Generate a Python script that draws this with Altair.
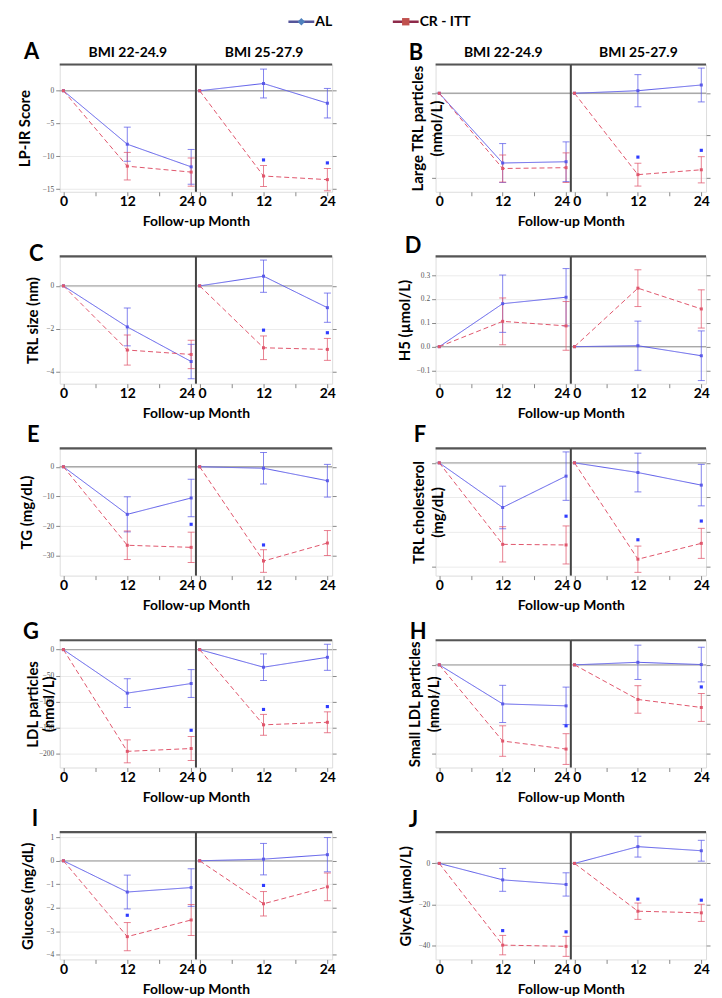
import altair as alt
import pandas as pd

MONTHS = [0, 12, 24]
GROUPS = ["BMI 22-24.9", "BMI 25-27.9"]
SERIES = ["AL", "CR - ITT"]

# Each list: BMI 22-24.9 at months 0, 12, 24, then BMI 25-27.9 at months 0, 12, 24
# A  LP-IR score
LPIR_AL = [0, -8.15, -11.6, 0, 1.1, -1.9]
LPIR_AL_ERR = [0, 2.6, 2.65, 0, 2.2, 2.25]
LPIR_CR = [0, -11.5, -12.4, 0, -13.0, -13.55]
LPIR_CR_ERR = [0, 2.1, 2.15, 0, 1.6, 1.7]
LPIR_STARS = [(1, 12, -10.55), (1, 24, -11.0)]

# B  Large TRL particles
LTRL_AL = [0, -1.65, -1.62, 0, 0.06, 0.195]
LTRL_AL_ERR = [0, 0.46, 0.47, 0, 0.38, 0.40]
LTRL_CR = [0, -1.78, -1.76, 0, -1.925, -1.81]
LTRL_CR_ERR = [0, 0.32, 0.35, 0, 0.27, 0.31]
LTRL_STARS = [(1, 12, -1.51), (1, 24, -1.35)]

# C  TRL size
TRLS_AL = [0, -1.91, -3.52, 0, 0.45, -1.015]
TRLS_AL_ERR = [0, 0.88, 0.8, 0, 0.75, 0.68]
TRLS_CR = [0, -2.985, -3.19, 0, -2.88, -2.955]
TRLS_CR_ERR = [0, 0.7, 0.66, 0, 0.55, 0.51]
TRLS_STARS = [(1, 12, -2.06), (1, 24, -2.18)]

# D  H5
H5_AL = [0, 0.18, 0.207, 0, 0.004, -0.038]
H5_AL_ERR = [0, 0.12, 0.12, 0, 0.103, 0.104]
H5_CR = [0, 0.106, 0.087, 0, 0.245, 0.158]
H5_CR_ERR = [0, 0.098, 0.102, 0, 0.077, 0.08]
H5_STARS = []

# E  TG
TG_AL = [0, -16.0, -10.5, 0, -0.5, -4.7]
TG_AL_ERR = [0, 5.9, 6.3, 0, 5.3, 5.5]
TG_CR = [0, -26.4, -27.1, 0, -31.7, -25.65]
TG_CR_ERR = [0, 4.8, 5.1, 0, 3.8, 4.2]
TG_STARS = [(0, 24, -19.35), (1, 12, -26.3)]

# F  TRL cholesterol
TRLC_AL = [0, -6.45, -1.92, 0, -1.40, -3.22]
TRLC_AL_ERR = [0, 3.08, 3.5, 0, 2.8, 3.0]
TRLC_CR = [0, -11.78, -11.87, 0, -13.93, -11.64]
TRLC_CR_ERR = [0, 2.55, 2.75, 0, 1.9, 2.17]
TRLC_STARS = [(0, 24, -7.71), (1, 12, -11.12), (1, 24, -8.41)]

# G  LDL particles
LDL_AL = [0, -83.4, -65.0, 0, -33.7, -14.7]
LDL_AL_ERR = [0, 27.6, 26.7, 0, 25.5, 25.0]
LDL_CR = [0, -195.0, -189.6, 0, -144.2, -139.3]
LDL_CR_ERR = [0, 22.0, 23.0, 0, 20.0, 20.0]
LDL_STARS = [(0, 24, -154.6), (1, 12, -114.7), (1, 24, -109.2)]

# H  Small LDL particles
SLDL_AL = [0, -65.8, -69.1, 0, 4.3, 0.5]
SLDL_AL_ERR = [0, 31.3, 31.6, 0, 28.9, 29.2]
SLDL_CR = [0, -128.4, -141.9, 0, -58.3, -71.8]
SLDL_CR_ERR = [0, 25.7, 25.9, 0, 23.2, 23.5]
SLDL_STARS = [(0, 24, -102.7), (1, 24, -37.2)]

# I  Glucose
GLU_AL = [0, -1.33, -1.14, 0, 0.07, 0.26]
GLU_AL_ERR = [0, 0.72, 0.8, 0, 0.67, 0.73]
GLU_CR = [0, -3.23, -2.52, 0, -1.83, -1.11]
GLU_CR_ERR = [0, 0.6, 0.66, 0, 0.52, 0.59]
GLU_STARS = [(0, 12, -2.32), (1, 12, -1.05)]

# J  GlycA
GLYCA_AL = [0, -8.06, -10.3, 0, 8.2, 6.2]
GLYCA_AL_ERR = [0, 5.6, 5.7, 0, 5.1, 5.1]
GLYCA_CR = [0, -40.0, -40.6, 0, -23.4, -24.2]
GLYCA_CR_ERR = [0, 4.75, 4.9, 0, 4.0, 4.2]
GLYCA_STARS = [(0, 12, -32.9), (0, 24, -33.5), (1, 12, -17.5), (1, 24, -18.0)]

PANELS = [
    ("A", ["LP-IR Score"], LPIR_AL, LPIR_AL_ERR, LPIR_CR, LPIR_CR_ERR, LPIR_STARS,
     [-15.4, 4.0], [-15, -10, -5, 0], True),
    ("B", ["Large TRL particles", "(nmol/L)"], LTRL_AL, LTRL_AL_ERR, LTRL_CR, LTRL_CR_ERR, LTRL_STARS,
     [-2.33, 0.68], [-2, -1, 0], False),
    ("C", ["TRL size (nm)"], TRLS_AL, TRLS_AL_ERR, TRLS_CR, TRLS_CR_ERR, TRLS_STARS,
     [-4.55, 1.37], [-4, -2, 0], True),
    ("D", ["H5 (µmol/L)"], H5_AL, H5_AL_ERR, H5_CR, H5_CR_ERR, H5_STARS,
     [-0.155, 0.378], [-0.1, 0.0, 0.1, 0.2, 0.3], True),
    ("E", ["TG (mg/dL)"], TG_AL, TG_AL_ERR, TG_CR, TG_CR_ERR, TG_STARS,
     [-36.6, 6.2], [-30, -20, -10, 0], True),
    ("F", ["TRL cholesterol", "(mg/dL)"], TRLC_AL, TRLC_AL_ERR, TRLC_CR, TRLC_CR_ERR, TRLC_STARS,
     [-16.3, 2.1], [-15, -10, -5, 0], False),
    ("G", ["LDL particles", "(nmol/L)"], LDL_AL, LDL_AL_ERR, LDL_CR, LDL_CR_ERR, LDL_STARS,
     [-226, 18], [-200, -150, -100, -50, 0], True),
    ("H", ["Small LDL particles", "(nmol/L)"], SLDL_AL, SLDL_AL_ERR, SLDL_CR, SLDL_CR_ERR, SLDL_STARS,
     [-173, 41.5], [-150, -100, -50, 0], False),
    ("I", ["Glucose (mg/dL)"], GLU_AL, GLU_AL_ERR, GLU_CR, GLU_CR_ERR, GLU_STARS,
     [-4.2, 1.22], [-4, -3, -2, -1, 0, 1], True),
    ("J", ["GlycA (µmol/L)"], GLYCA_AL, GLYCA_AL_ERR, GLYCA_CR, GLYCA_CR_ERR, GLYCA_STARS,
     [-47, 15.3], [-40, -20, 0], True),
]

# ---- styling (pixel offsets relative to each panel frame) ----
LETTER_POS = {"A": (-36, -6), "B": (-27, -5), "C": (-31, 5), "D": (-31, -3), "E": (-33, -6),
              "F": (-22, -6), "G": (-37, -1), "H": (-26, -1), "I": (-28, -6), "J": (-27, -5)}
TITLE_X = {"A": -27, "B": -10, "C": -19, "D": -23, "E": -25, "F": -9, "G": -19,
           "H": -13, "I": -24, "J": -22}
TITLE_LH = {"B": 19, "F": 19, "G": 16, "H": 19}
WL, WR, H = 137, 136, 128
LEFT_EXT = {0: 50, 1: 48}
TOP_EXT = 24
RIGHT_PAD = 6
FONT = "Lato"
AL_COLOR, CR_COLOR = "#5a5ae8", "#e0566c"
X_DOMAIN = [-0.7, 24.9]
LEGEND_X = [243, 348]
LEGEND_LINE = ["#55559a", "#8e2a4a"]
LEGEND_MARK = ["#4f81bd", "#c0504d"]
LEGEND_SHAPE = ["diamond", "square"]


def build_df(al, al_err, cr, cr_err):
    rows = []
    for s, m, e in [(SERIES[0], al, al_err), (SERIES[1], cr, cr_err)]:
        for i in range(6):
            rows.append(dict(bmi=GROUPS[i // 3], month=MONTHS[i % 3], series=s,
                             mean=m[i], lo=m[i] - e[i], hi=m[i] + e[i]))
    return pd.DataFrame(rows)


def sub(panel, gi, col, row):
    letter, ytitle, al, al_err, cr, cr_err, stars, dom, ticks, show_labels = panel
    W = WL if col == 0 else WR
    df = build_df(al, al_err, cr, cr_err)
    d = df[df.bmi == GROUPS[gi]]
    derr = d[d.month > 0]
    sdf = pd.DataFrame([dict(month=m, mean=v) for g, m, v in stars if g == gi],
                       columns=["month", "mean"])

    px = W / (X_DOMAIN[1] - X_DOMAIN[0])
    x0 = (0 - X_DOMAIN[0]) * px
    x24 = (24 - X_DOMAIN[0]) * px
    if gi == 0:
        l_align = {"condition": {"test": "datum.value === 24", "value": "right"}, "value": "center"}
        l_off = {"condition": {"test": "datum.value === 24", "value": round(W - 1 - x24, 1)}, "value": 0}
    else:
        l_align = {"condition": {"test": "datum.value === 0", "value": "left"}, "value": "center"}
        l_off = {"condition": {"test": "datum.value === 0", "value": round(2 - x0, 1)}, "value": 0}

    xs = alt.Scale(domain=X_DOMAIN, nice=False, zero=False)
    ys = alt.Scale(domain=dom, nice=False, zero=False)
    xax = alt.Axis(values=[0, 6, 12, 18, 24],
                   labelExpr="datum.value % 12 === 0 ? datum.label : ''",
                   labelFont=FONT, labelFontSize=14, labelFontWeight="bold", labelColor="black",
                   labelPadding=-1, labelFlush=False, labelOverlap=False,
                   labelAlign=l_align, labelOffset=l_off,
                   tickSize=4, tickColor="#888", domain=False, grid=False,
                   title="Follow-up Month" if gi == 0 else None,
                   titleFont=FONT, titleFontSize=14, titleFontWeight="bold", titleColor="black",
                   titleX=W, titleY=34, titleBaseline="alphabetic", titleAlign="center")
    if gi == 0:
        yax = alt.Axis(orient="left", values=ticks, labels=show_labels,
                       format=".1f" if letter == "D" else "d",
                       labelFont="Liberation Serif", labelFontSize=7.5, labelColor="#555",
                       labelPadding=2, tickSize=4, tickColor="#888", domain=False,
                       grid=True, gridColor="#ebebeb",
                       title=ytitle, titleFont=FONT, titleFontSize=15, titleFontWeight="bold",
                       titleColor="black", titleX=TITLE_X[letter], titleY=H / 2,
                       titleAlign="center", titleBaseline="bottom",
                       titleLineHeight=TITLE_LH.get(letter, 19), titleAngle=270)
    else:
        yax = alt.Axis(orient="right", values=ticks, labels=False, tickSize=4, tickColor="#888",
                       domain=False, grid=True, gridColor="#ebebeb", title=None)

    X = alt.X("month:Q", scale=xs, axis=xax)

    def Y(f):
        return alt.Y(f"{f}:Q", scale=ys, axis=yax)

    col_enc = alt.Color("series:N", scale=alt.Scale(domain=SERIES, range=[AL_COLOR, CR_COLOR]), legend=None)
    dash_enc = alt.StrokeDash("series:N", scale=alt.Scale(domain=SERIES, range=[[1, 0], [5, 3]]), legend=None)

    layers = []
    layers.append(alt.Chart(pd.DataFrame({"mean": [0]})).mark_rule(color="#a9a9a9", strokeWidth=1.3)
                  .encode(y=Y("mean")))
    layers.append(alt.Chart(derr).mark_rule(strokeWidth=1, opacity=0.75)
                  .encode(x=X, y=Y("lo"), y2="hi:Q", color=col_enc))
    layers.append(alt.Chart(derr).mark_tick(orient="horizontal", size=7, thickness=1, opacity=0.75)
                  .encode(x=X, y=Y("lo"), color=col_enc))
    layers.append(alt.Chart(derr).mark_tick(orient="horizontal", size=7, thickness=1, opacity=0.75)
                  .encode(x=X, y=Y("hi"), color=col_enc))
    layers.append(alt.Chart(d).mark_line(strokeWidth=1)
                  .encode(x=X, y=Y("mean"), color=col_enc, strokeDash=dash_enc, detail="series:N"))
    layers.append(alt.Chart(d).mark_point(filled=True, shape="square", size=9, opacity=1)
                  .encode(x=X, y=Y("mean"), color=col_enc))
    if len(sdf):
        layers.append(alt.Chart(sdf).mark_square(size=10, color="#2f3cff", opacity=1)
                      .encode(x=X, y=Y("mean")))
    one = pd.DataFrame({"t": [letter], "g": [GROUPS[gi]]})
    layers.append(alt.Chart(one).mark_rule(color="#555", strokeWidth=2.2)
                  .encode(x=alt.value(0), x2=alt.value(W), y=alt.value(0)))
    if row == 0:
        layers.append(alt.Chart(one).mark_text(font=FONT, fontSize=14, fontWeight="bold", color="black",
                                               align="center", baseline="alphabetic")
                      .encode(text="g:N", x=alt.value(W / 2), y=alt.value(-8)))
    if gi == 1:
        layers.append(alt.Chart(one).mark_rule(color="#444", strokeWidth=2)
                      .encode(x=alt.value(0), y=alt.value(0), y2=alt.value(H)))
        # invisible extent guide on the right
        layers.append(alt.Chart(one).mark_rule(color="white", opacity=0)
                      .encode(x=alt.value(W + RIGHT_PAD), y=alt.value(0), y2=alt.value(H)))
    else:
        lx, ly = LETTER_POS[letter]
        layers.append(alt.Chart(one).mark_text(font=FONT, fontSize=22, fontWeight="bold",
                                               color="black", align="left", baseline="alphabetic")
                      .encode(text="t:N", x=alt.value(lx), y=alt.value(ly)))
        # invisible extent guide on the left/top
        layers.append(alt.Chart(one).mark_rule(color="white", opacity=0)
                      .encode(x=alt.value(-LEFT_EXT[col]), y=alt.value(-TOP_EXT), y2=alt.value(0)))
    return alt.layer(*layers).properties(width=W, height=H)


# ---- legend row ----
leg_df = pd.DataFrame({"series": SERIES})
leg_layers = [alt.Chart(leg_df).mark_rule(color="white", opacity=0)
              .encode(x=alt.value(-LEFT_EXT[0]), y=alt.value(0), y2=alt.value(24))]
for i, s in enumerate(SERIES):
    base = alt.Chart(leg_df).transform_filter(alt.datum.series == s)
    leg_layers.append(base.mark_rule(color=LEGEND_LINE[i], strokeWidth=2.5)
                      .encode(x=alt.value(LEGEND_X[i] - 13), x2=alt.value(LEGEND_X[i] + 13), y=alt.value(9)))
    leg_layers.append(base.mark_point(filled=True, size=55, opacity=1, color=LEGEND_MARK[i],
                                      shape=LEGEND_SHAPE[i])
                      .encode(x=alt.value(LEGEND_X[i]), y=alt.value(9)))
    leg_layers.append(base.mark_text(align="left", baseline="middle", font=FONT, fontSize=14,
                                     fontWeight="bold", color="black")
                      .encode(x=alt.value(LEGEND_X[i] + 14), y=alt.value(9), text="series:N"))
legend = alt.layer(*leg_layers).properties(width=600, height=24,
                                           view=alt.ViewBackground(stroke="transparent"))

rows = []
for r in range(5):
    panels = []
    for c in range(2):
        p = PANELS[2 * r + c]
        panels.append(alt.hconcat(sub(p, 0, c, r), sub(p, 1, c, r), spacing=0, bounds="flush"))
    rows.append(alt.hconcat(*panels, spacing=48))

chart = alt.vconcat(legend, *rows, spacing=2).properties(
    padding={"left": 1, "top": 1, "right": 1, "bottom": 1}
).configure_view(stroke="#8c8c8c", strokeWidth=1).configure(background="white")

chart.save("out.html", embed_options={"renderer": "svg", "actions": False})
